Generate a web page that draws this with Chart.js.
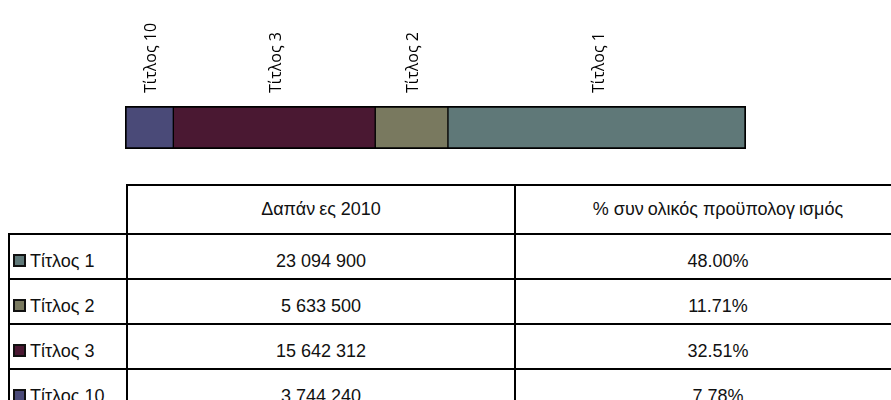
<!DOCTYPE html>
<html>
<head>
<meta charset="utf-8">
<script src="https://cdn.jsdelivr.net/npm/chart.js@4"></script>
<style>
  html, body { margin: 0; padding: 0; background: #fff; width: 891px; height: 400px; overflow: hidden; }
  #wrap { position: absolute; left: 0; top: 0; width: 891px; height: 160px; }
  #budget { position: absolute; left: 8px; top: 184px; width: 912px; border-collapse: collapse; table-layout: fixed;
    font-family: "Liberation Sans", Arial, sans-serif; font-size: 18px; color: #111; }
  #budget td { border: 2px solid #000; text-align: center; vertical-align: middle; padding: 10px 0 0 0; }
  #budget tr.head td { height: 47px; padding: 0; }
  #budget tr.head td.blank { border-top: none; border-left: none; }
  #budget tr.row td { height: 33px; }
  #budget td.name { text-align: left; padding-left: 3px; font-size: 18px; white-space: nowrap; }
  .sw { display: inline-block; width: 9px; height: 9px; border: 2px solid #111; margin-right: 4px; vertical-align: 0px; }
  .gap { padding-right: 4px; }
</style>
</head>
<body>
<div id="wrap"><canvas id="bar" width="891" height="160"></canvas></div>
<table id="budget"></table>
<script>
// δεδομένα
const categories = ['Τίτλος 1', 'Τίτλος 2', 'Τίτλος 3', 'Τίτλος 10'];
const spending2010 = [23094900, 5633500, 15642312, 3744240];
const budgetShare = [48.00, 11.71, 32.51, 7.78];
const stackOrder = ['Τίτλος 10', 'Τίτλος 3', 'Τίτλος 2', 'Τίτλος 1'];
const headers = ['Δαπάνες 2010', '% συνολικός προϋπολογισμός'];

const colors = ['#5f7878', '#79795f', '#4a1832', '#4a4a78'];

const total = spending2010.reduce((a, b) => a + b, 0);

function fmt(n) {
  return String(n).replace(/\B(?=(\d{3})+(?!\d))/g, ' ');
}

// κενά όπως στο πρωτότυπο μετά από ν / γ
function spaced(s) {
  return s.replace(/([νγ])(?=\S)/g, '<span class="gap">$1</span>');
}

// πίνακας
const table = document.getElementById('budget');
let html = '<colgroup><col style="width:118px"><col style="width:388px"><col style="width:406px"></colgroup>';
html += '<tr class="head"><td class="blank"></td>';
headers.forEach(h => { html += '<td>' + spaced(h) + '</td>'; });
html += '</tr>';
categories.forEach((c, i) => {
  html += '<tr class="row"><td class="name"><span class="sw" style="background:' + colors[i] + '"></span>' + c + '</td>';
  html += '<td>' + fmt(spending2010[i]) + '</td>';
  html += '<td>' + budgetShare[i].toFixed(2) + '%</td></tr>';
});
table.innerHTML = html;

// ράβδος
const datasets = stackOrder.map((name, k) => {
  const i = categories.indexOf(name);
  return {
    label: name,
    data: [spending2010[i]],
    backgroundColor: colors[i],
    borderColor: '#000',
    borderWidth: { top: 2, bottom: 2, left: k === 0 ? 2 : 1, right: k === stackOrder.length - 1 ? 2 : 1 },
    borderSkipped: false,
    barPercentage: 1,
    categoryPercentage: 1
  };
});

const topLabels = {
  id: 'topLabels',
  afterDatasetsDraw(chart) {
    const c = chart.ctx;
    c.save();
    c.font = '16px "Open Sans", "DejaVu Sans", sans-serif';
    c.fillStyle = '#000';
    c.textAlign = 'left';
    c.textBaseline = 'middle';
    chart.data.datasets.forEach((ds, i) => {
      const el = chart.getDatasetMeta(i).data[0];
      const cx = (el.x + el.base) / 2 + 2;
      c.save();
      c.translate(cx, 93);
      c.rotate(-Math.PI / 2);
      c.fillText(ds.label, 0, 0);
      c.restore();
    });
    c.restore();
  }
};

new Chart(document.getElementById('bar'), {
  type: 'bar',
  data: { labels: [''], datasets: datasets },
  options: {
    indexAxis: 'y',
    responsive: false,
    animation: false,
    layout: { padding: { left: 125, right: 145, top: 106, bottom: 11 } },
    plugins: { legend: { display: false }, tooltip: { enabled: false } },
    scales: {
      x: { display: false, stacked: true, min: 0, max: total },
      y: { display: false, stacked: true }
    }
  },
  plugins: [topLabels]
});
</script>
</body>
</html>
